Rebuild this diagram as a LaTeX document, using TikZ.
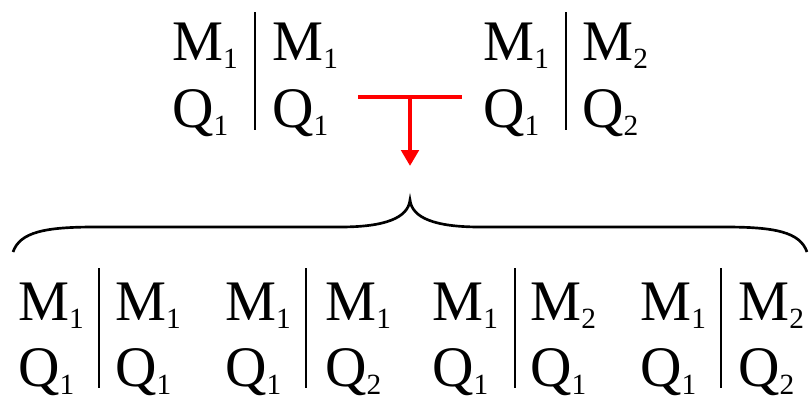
\documentclass[tikz,border=0pt]{standalone}
\usepackage{fontspec}
\setmainfont{Liberation Serif}
\usepackage{tikz}
\usetikzlibrary{arrows.meta, positioning}
\definecolor{mqred}{HTML}{FF0000}
\newcommand{\lowsub}[1]{\raisebox{-6.5pt}{\fontsize{22}{22}\selectfont #1}}

\begin{document}
\begin{tikzpicture}[
      x=0.75pt, y=-0.75pt,
      font=\fontsize{43}{50}\selectfont,
      cell/.style={anchor=base west, inner sep=0pt},
      bar/.style={line width=1.6pt, black},
      brace/.style={line width=2pt, black},
      red/.style={mqred, line width=2.4pt},
      ar/.style={-{Triangle[length=12pt,width=13pt]}, mqred, line width=3pt},
    ]
    \useasboundingbox (0,0) rectangle (809,400);

    % parent pairs
    \foreach \nm/\xl/\xb/\xr/\ml/\ql/\mr/\qr in
        {pa/172/255/272/1/1/1/1, pb/483/566/582/1/1/2/2} {
      \node[cell] (\nm lm) at (\xl,60)  {M\lowsub{\ml}};
      \node[cell] (\nm lq) at (\xl,127) {Q\lowsub{\ql}};
      \node[cell] (\nm rm) at (\xr,60)  {M\lowsub{\mr}};
      \node[cell] (\nm rq) at (\xr,127) {Q\lowsub{\qr}};
      \draw[bar] (\xb,12) -- (\xb,130);
    }

    % offspring
    \foreach \nm/\xl/\xb/\xr/\ml/\ql/\mr/\qr in
        {ca/18/99/115/1/1/1/1, cb/225/306/325/1/1/1/2,
         cc/432/515/530/1/1/2/1, cd/640/721/738/1/1/2/2} {
      \node[cell] (\nm lm) at (\xl,320) {M\lowsub{\ml}};
      \node[cell] (\nm lq) at (\xl,386) {Q\lowsub{\ql}};
      \node[cell] (\nm rm) at (\xr,320) {M\lowsub{\mr}};
      \node[cell] (\nm rq) at (\xr,386) {Q\lowsub{\qr}};
      \draw[bar] (\xb,268) -- (\xb,388);
    }

    % cross
    \coordinate (xl)   at (358,97);
    \coordinate (xr)   at (462,97);
    \coordinate (join) at (410,97);
    \coordinate (tip)  at (410,166);
    \draw[red] (xl) -- (xr);
    \draw[ar] (join) -- (tip);

    % brace
    \coordinate (bl)   at (13,252);
    \coordinate (bmid) at (410,200);
    \coordinate (br)   at (807,252);
    \draw[brace] (bl) .. controls (20,232) and (45,227) .. (95,227)
      -- (340,227) .. controls (385,227) and (408,218) .. (bmid)
      .. controls (412,218) and (435,227) .. (480,227)
      -- (725,227) .. controls (775,227) and (800,232) .. (br);
  \end{tikzpicture}
\end{document}
